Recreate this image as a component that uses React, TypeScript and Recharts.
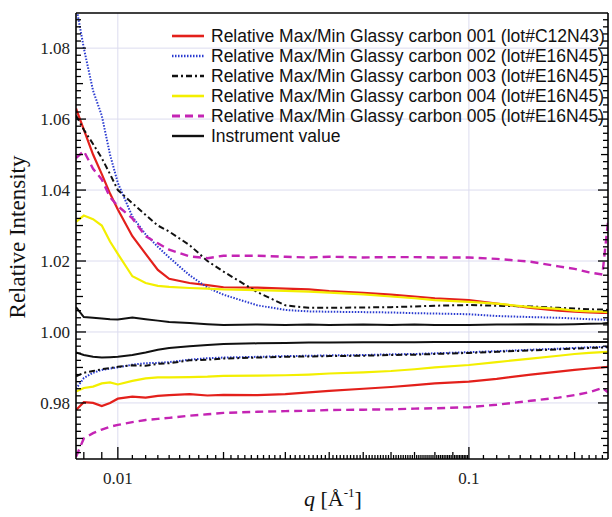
import React from 'react';
import { LineChart, Line, XAxis, YAxis, ReferenceLine } from 'recharts';

// q grid (1/Å) and max/min curves
const Q = [0.0076, 0.008, 0.0085, 0.009, 0.0095, 0.01, 0.011, 0.012, 0.013, 0.014, 0.016, 0.018, 0.02, 0.025, 0.03, 0.035, 0.04, 0.05, 0.06, 0.07, 0.08, 0.1, 0.12, 0.15, 0.18, 0.2, 0.22, 0.24, 0.249];

const GC001_MAX = [1.063, 1.057, 1.05, 1.0445, 1.039, 1.0345, 1.027, 1.022, 1.0175, 1.015, 1.0138, 1.0132, 1.0126, 1.0125, 1.0122, 1.012, 1.0115, 1.011, 1.0105, 1.01, 1.0095, 1.009, 1.008, 1.0068, 1.006, 1.0057, 1.0055, 1.0054, 1.0054];
const GC001_MIN = [0.978, 0.9802, 0.98, 0.9791, 0.98, 0.9812, 0.9818, 0.9815, 0.982, 0.9822, 0.9825, 0.9821, 0.9823, 0.9822, 0.9825, 0.983, 0.9834, 0.984, 0.9845, 0.985, 0.9855, 0.986, 0.9868, 0.988, 0.9888, 0.9893, 0.9897, 0.99, 0.9902];
const GC002_MAX = [1.092, 1.08, 1.068, 1.061, 1.05, 1.042, 1.0325, 1.0275, 1.024, 1.021, 1.016, 1.0125, 1.0105, 1.0075, 1.0062, 1.0058, 1.0057, 1.0056, 1.0055, 1.0053, 1.0052, 1.005, 1.0045, 1.0042, 1.004, 1.0038, 1.0036, 1.0035, 1.0034];
const GC002_MIN = [0.984, 0.987, 0.9885, 0.9893, 0.9897, 0.99, 0.9908, 0.9912, 0.9913, 0.9915, 0.9922, 0.9926, 0.9928, 0.993, 0.9932, 0.9933, 0.9934, 0.9935, 0.9937, 0.9938, 0.994, 0.9943, 0.9946, 0.995, 0.9953, 0.9955, 0.9957, 0.9958, 0.9959];
const GC003_MAX = [1.061, 1.057, 1.053, 1.049, 1.0445, 1.04, 1.0363, 1.033, 1.03, 1.0283, 1.0245, 1.02, 1.017, 1.0112, 1.0075, 1.0068, 1.0068, 1.0069, 1.007, 1.0072, 1.0074, 1.0076, 1.0074, 1.0072, 1.0068, 1.0066, 1.0064, 1.0063, 1.0062];
const GC003_MIN = [0.9875, 0.9885, 0.989, 0.9895, 0.9898, 0.9902, 0.9906, 0.9905, 0.991, 0.9912, 0.992, 0.9922, 0.9925, 0.9928, 0.993, 0.9931, 0.9932, 0.9933, 0.9935, 0.9936, 0.9938, 0.9941, 0.9944, 0.9948, 0.9951, 0.9953, 0.9955, 0.9956, 0.9957];
const GC004_MAX = [1.031, 1.0328, 1.0318, 1.03, 1.0255, 1.022, 1.0157, 1.0138, 1.013, 1.0127, 1.0124, 1.0122, 1.012, 1.0118, 1.0116, 1.0114, 1.0111, 1.0106, 1.01, 1.0095, 1.009, 1.0085, 1.008, 1.007, 1.0065, 1.006, 1.0058, 1.0057, 1.0056];
const GC004_MIN = [0.9832, 0.9842, 0.9846, 0.9855, 0.9858, 0.9852, 0.9862, 0.9869, 0.9872, 0.9872, 0.9873, 0.9874, 0.9876, 0.9877, 0.9878, 0.988, 0.9883, 0.9886, 0.989, 0.9895, 0.99, 0.9907, 0.9915, 0.9925, 0.9933, 0.9938, 0.9941, 0.9943, 0.9944];
const GC005_MAX = [1.049, 1.051, 1.046, 1.043, 1.038, 1.0355, 1.032, 1.027, 1.025, 1.0232, 1.0213, 1.0208, 1.0215, 1.0215, 1.0212, 1.021, 1.0212, 1.021, 1.0211, 1.0211, 1.021, 1.021, 1.0206, 1.0198, 1.0185, 1.0178, 1.0168, 1.0162, 1.031];
const GC005_MIN = [0.9648, 0.97, 0.9715, 0.9725, 0.9733, 0.9738, 0.9746, 0.9752, 0.9755, 0.9758, 0.9764, 0.9768, 0.9772, 0.9775, 0.9777, 0.9778, 0.978, 0.9781, 0.9782, 0.9784, 0.9785, 0.9788, 0.9795, 0.9806, 0.9815, 0.9822, 0.983, 0.9842, 0.983];
const INST_MAX = [1.007, 1.0042, 1.004, 1.0038, 1.0036, 1.0035, 1.0041, 1.0036, 1.0032, 1.0028, 1.0025, 1.0022, 1.002, 1.0021, 1.002, 1.0021, 1.002, 1.0021, 1.002, 1.0021, 1.002, 1.002, 1.0021, 1.0022, 1.0021, 1.0022, 1.0023, 1.0024, 1.0025];
const INST_MIN = [0.9942, 0.9935, 0.993, 0.9928, 0.9929, 0.993, 0.9935, 0.9942, 0.995, 0.9955, 0.996, 0.9963, 0.9966, 0.9968, 0.9969, 0.997, 0.997, 0.9971, 0.9971, 0.9971, 0.9972, 0.9972, 0.9972, 0.9972, 0.9972, 0.9972, 0.9972, 0.9972, 0.9972];

const LEGEND_NAMES = [
  'Relative Max/Min Glassy carbon 001 (lot#C12N43)',
  'Relative Max/Min Glassy carbon 002 (lot#E16N45)',
  'Relative Max/Min Glassy carbon 003 (lot#E16N45)',
  'Relative Max/Min Glassy carbon 004 (lot#E16N45)',
  'Relative Max/Min Glassy carbon 005 (lot#E16N45)',
  'Instrument value',
];

const X_MAJOR = [0.01, 0.1];
const X_LABELS = ['0.01', '0.1'];
const X_MEDIUM = [0.008, 0.009, 0.02, 0.03, 0.04, 0.05, 0.06, 0.07, 0.08, 0.09, 0.2];
const Y_MAJOR = [0.98, 1.0, 1.02, 1.04, 1.06, 1.08];
const Y_LABELS = ['0.98', '1.00', '1.02', '1.04', '1.06', '1.08'];

const X_DOMAIN = [0.0076, 0.249];
const Y_DOMAIN = [0.9642, 1.0899];

// tick marks: 0.001 steps up to 0.1, then 0.01 steps
const X_TICKS: number[] = [0.008, 0.009];
for (let k = 10; k <= 100; k++) X_TICKS.push(k / 1000);
for (let k = 11; k <= 24; k++) X_TICKS.push(k / 100);
const Y_TICKS: number[] = [];
for (let k = 483; k <= 544; k++) Y_TICKS.push(k / 500);

const data = Q.map((q, i) => ({
  q,
  a1: GC001_MAX[i], b1: GC001_MIN[i],
  a2: GC002_MAX[i], b2: GC002_MIN[i],
  a3: GC003_MAX[i], b3: GC003_MIN[i],
  a4: GC004_MAX[i], b4: GC004_MIN[i],
  a5: GC005_MAX[i], b5: GC005_MIN[i],
  a6: INST_MAX[i], b6: INST_MIN[i],
}));

const STYLES = [
  { color: '#e3201b', dash: undefined, width: 2.2 },
  { color: '#2a3bd0', dash: '1.5 1.5', width: 2 },
  { color: '#111111', dash: '6 3 2 3', width: 2 },
  { color: '#f3ef00', dash: undefined, width: 2.2 },
  { color: '#c424b4', dash: '8 5', width: 2.4 },
  { color: '#111111', dash: undefined, width: 2 },
];

const SERIF = '"Liberation Serif", "DejaVu Serif", serif';
const SANS = '"Liberation Sans", Arial, sans-serif';
const near = (v: number, arr: number[]) => arr.findIndex((a) => Math.abs(a - v) < 1e-9);

function yLen(v: number) {
  if (near(v, Y_MAJOR) >= 0) return 10;
  if (Math.abs(v * 100 - Math.round(v * 100)) < 1e-6) return 7;
  return 5;
}
function xLen(v: number) {
  if (near(v, X_MAJOR) >= 0) return 12;
  if (near(v, X_MEDIUM) >= 0) return 7;
  return 4;
}

const LeftTick = (p: any) => {
  const v = p.payload.value;
  const idx = near(v, Y_MAJOR);
  return (
    <g>
      <line x1={p.x} x2={p.x + yLen(v)} y1={p.y} y2={p.y} stroke="#000" strokeWidth={1.3} />
      {idx >= 0 && (
        <text x={p.x - 6} y={p.y + 6} textAnchor="end" fontFamily={SERIF} fontSize={17} fill="#222">
          {Y_LABELS[idx]}
        </text>
      )}
    </g>
  );
};
const RightTick = (p: any) => (
  <line x1={p.x} x2={p.x - yLen(p.payload.value)} y1={p.y} y2={p.y} stroke="#000" strokeWidth={1.3} />
);
const BottomTick = (p: any) => {
  const v = p.payload.value;
  const idx = near(v, X_MAJOR);
  return (
    <g>
      <line x1={p.x} x2={p.x} y1={p.y} y2={p.y - xLen(v)} stroke="#000" strokeWidth={1.3} />
      {idx >= 0 && (
        <text x={p.x} y={p.y + 25} textAnchor="middle" fontFamily={SERIF} fontSize={17} fill="#222">
          {X_LABELS[idx]}
        </text>
      )}
    </g>
  );
};
const TopTick = (p: any) => (
  <line x1={p.x} x2={p.x} y1={p.y} y2={p.y + xLen(p.payload.value)} stroke="#000" strokeWidth={1.3} />
);

export default function App() {
  const axisLine = { stroke: '#000', strokeWidth: 1.6 };
  return (
    <div style={{ position: 'absolute', left: 0, top: 0, width: 612, height: 517, background: '#fff' }}>
      <LineChart width={612} height={517} data={data} margin={{ top: 0, right: 0, bottom: 0, left: 0 }}>
        <XAxis xAxisId="b" dataKey="q" type="number" scale="log" domain={X_DOMAIN} allowDataOverflow
          ticks={X_TICKS} interval={0} tickSize={0} tickMargin={0} tick={BottomTick} axisLine={axisLine} tickLine={false} height={58} />
        <XAxis xAxisId="t" orientation="top" type="number" scale="log" domain={X_DOMAIN} allowDataOverflow
          ticks={X_TICKS} interval={0} tickSize={0} tickMargin={0} tick={TopTick} axisLine={axisLine} tickLine={false} height={13} />
        <YAxis yAxisId="l" type="number" domain={Y_DOMAIN} allowDataOverflow ticks={Y_TICKS} interval={0}
          tickSize={0} tickMargin={0} tick={LeftTick} axisLine={axisLine} tickLine={false} width={76} />
        <YAxis yAxisId="r" orientation="right" type="number" domain={Y_DOMAIN} allowDataOverflow ticks={Y_TICKS} interval={0}
          tickSize={0} tickMargin={0} tick={RightTick} axisLine={axisLine} tickLine={false} width={4} />
        {Y_MAJOR.map((v) => (
          <ReferenceLine key={'gy' + v} xAxisId="b" yAxisId="l" y={v} stroke="#dcdcef" strokeWidth={1} />
        ))}
        {X_MAJOR.map((v) => (
          <ReferenceLine key={'gx' + v} xAxisId="b" yAxisId="l" x={v} stroke="#dcdcef" strokeWidth={1} />
        ))}
        {STYLES.map((s, i) =>
          ['a', 'b'].map((k) => (
            <Line key={k + (i + 1)} xAxisId="b" yAxisId="l" dataKey={k + (i + 1)} type="linear"
              stroke={s.color} strokeWidth={s.width} strokeDasharray={s.dash} dot={false} isAnimationActive={false} />
          ))
        )}
      </LineChart>
      <svg width={612} height={517} style={{ position: 'absolute', left: 0, top: 0, pointerEvents: 'none' }}>
        {LEGEND_NAMES.map((name, i) => {
          const y = 36 + i * 20;
          const s = STYLES[i];
          return (
            <g key={name}>
              <line x1={172} x2={204} y1={y} y2={y} stroke={s.color} strokeWidth={s.width + 0.4} strokeDasharray={s.dash} />
              <text x={211} y={y + 6} fontFamily={SANS} fontSize={17.5} fill="#111">{name}</text>
            </g>
          );
        })}
        <text transform="translate(25,237) rotate(-90)" textAnchor="middle" fontFamily={SERIF} fontSize={23} fill="#111">
          Relative Intensity
        </text>
        <text x={333} y={506} textAnchor="middle" fontFamily={SERIF} fontSize={22} fill="#111">
          <tspan fontStyle="italic">q</tspan> [Å<tspan dy={-9} fontSize={13}>-1</tspan><tspan dy={9}>]</tspan>
        </text>
      </svg>
    </div>
  );
}
